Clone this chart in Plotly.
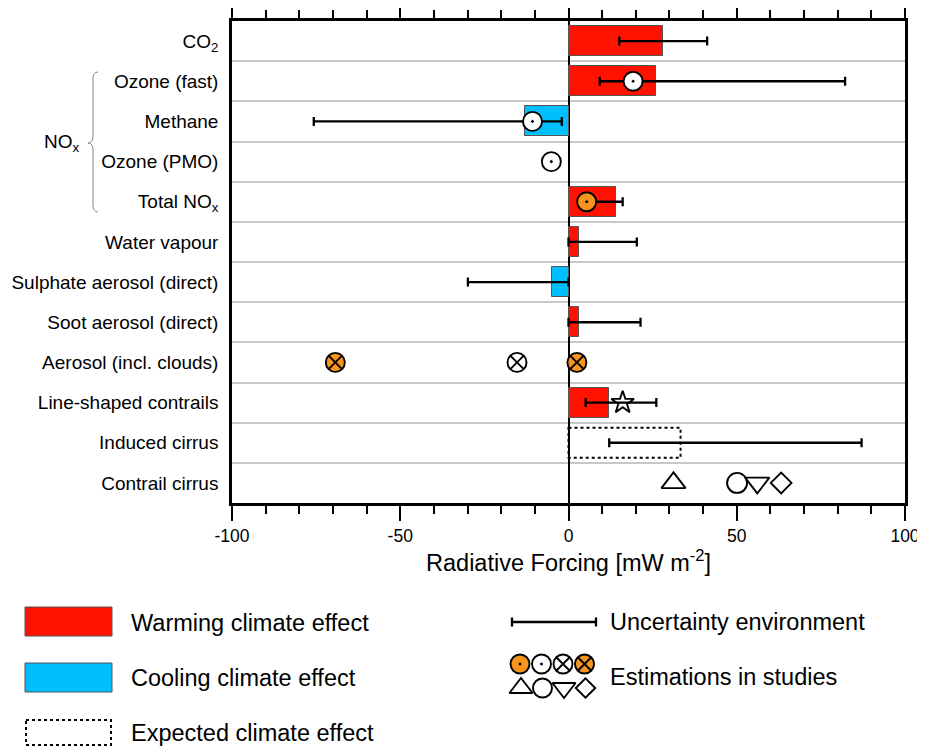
import plotly.graph_objects as go

# ---------------- data ----------------
categories = ["CO<sub>2</sub>", "Ozone (fast)", "Methane", "Ozone (PMO)", "Total NO<sub>x</sub>",
              "Water vapour", "Sulphate aerosol (direct)", "Soot aerosol (direct)",
              "Aerosol (incl. clouds)", "Line-shaped contrails", "Induced cirrus", "Contrail cirrus"]

# best-estimate radiative forcing [mW m-2] (None = no bar)
bar_values = [28.0, 26.0, -12.9, None, 14.1, 3.2, -5.0, 3.2, None, 12.1, None, None]
# expected (dotted) climate effect
expected_values = [None, None, None, None, None, None, None, None, None, None, 33.3, None]
# uncertainty ranges
err_low = [15.1, 9.3, -75.7, None, 4.6, 0.0, -29.9, 0.0, None, 5.1, 12.1, None]
err_high = [41.2, 82.2, -2.0, None, 16.1, 20.3, 0.0, 21.4, None, 26.1, 87.1, None]

# estimations in individual studies
est_category = [1, 2, 3, 4, 8, 8, 8, 9, 11, 11, 11, 11]
est_value = [19.2, -10.7, -5.1, 5.4, -69.3, -15.3, 2.5, 16.1, 31.2, 50.1, 56.1, 63.2]
est_study = ["B", "B", "B", "A", "D", "C", "D", "E", "F", "G", "H", "I"]

legend_studies_row1 = ["A", "B", "C", "D"]
legend_studies_row2 = ["F", "G", "H", "I"]

x_ticks = [-100, -50, 0, 50, 100]
x_ticktext = ["-100", "-50", "0", "50", "100"]

# ---------------- styles ----------------
RED = "#FF1200"
BLUE = "#00BFFF"
ORANGE = "#F7941D"
FONT = "Liberation Sans, Arial, sans-serif"

study_style = {
    "A": dict(symbol="circle-dot", color=ORANGE, size=19),
    "B": dict(symbol="circle-dot", color="white", size=19),
    "C": dict(symbol="circle-x", color="white", size=19),
    "D": dict(symbol="circle-x", color=ORANGE, size=19),
    "E": dict(symbol="star-open", color="black", size=17),
    "F": dict(symbol="triangle-up", color="white", size=21),
    "G": dict(symbol="circle", color="white", size=20),
    "H": dict(symbol="triangle-down", color="white", size=21),
    "I": dict(symbol="diamond", color="white", size=16),
}

# the page body has an 8px margin; overlay axis uses window pixel coordinates
OFF = 8
WIN_W, WIN_H = 925, 747
W, H = WIN_W - OFF, WIN_H - OFF
px_l, px_r, px_t, px_b = 232, 905, 21, 503

fig = go.Figure()

# bars
bx, by, bc = [], [], []
for i, v in enumerate(bar_values):
    if v is not None:
        bx.append(v); by.append(i); bc.append(RED if v > 0 else BLUE)
fig.add_trace(go.Bar(x=bx, y=by, orientation="h", width=0.75,
                     marker=dict(color=bc, line=dict(color="#555555", width=1)),
                     showlegend=False, hoverinfo="skip"))

# expected effect boxes (dotted)
for i, v in enumerate(expected_values):
    if v is not None:
        fig.add_shape(type="rect", xref="x", yref="y", x0=0, x1=v, y0=i - 0.375, y1=i + 0.375,
                      line=dict(color="black", width=2, dash="dot"), fillcolor="rgba(0,0,0,0)")

# uncertainty bars
ex, ey, ea = [], [], []
for i, (lo, hi) in enumerate(zip(err_low, err_high)):
    if lo is not None:
        ex.append((lo + hi) / 2); ey.append(i); ea.append((hi - lo) / 2)
fig.add_trace(go.Scatter(x=ex, y=ey, mode="markers",
                         marker=dict(size=1, color="rgba(0,0,0,0)"),
                         error_x=dict(type="data", array=ea, symmetric=True, thickness=2.3,
                                      width=4.5, color="black"),
                         showlegend=False, hoverinfo="skip"))

# study estimates
for s, st in study_style.items():
    xs = [v for v, e in zip(est_value, est_study) if e == s]
    ys = [c for c, e in zip(est_category, est_study) if e == s]
    if not xs:
        continue
    fig.add_trace(go.Scatter(x=xs, y=ys, mode="markers",
                             marker=dict(symbol=st["symbol"], size=st["size"], color=st["color"],
                                         line=dict(color="black", width=1.9)),
                             showlegend=False, hoverinfo="skip", cliponaxis=False))

# ---------------- legend (pixel overlay axes) ----------------
def lg(x, y, **kw):
    fig.add_trace(go.Scatter(x=x, y=y, xaxis="x2", yaxis="y2", showlegend=False,
                             hoverinfo="skip", cliponaxis=False, **kw))

fig.add_shape(type="rect", xref="x2", yref="y2", x0=25, x1=112, y0=607, y1=636,
              fillcolor=RED, line=dict(color="#555555", width=1))
fig.add_shape(type="rect", xref="x2", yref="y2", x0=25, x1=112, y0=663, y1=692,
              fillcolor=BLUE, line=dict(color="#555555", width=1))
fig.add_shape(type="rect", xref="x2", yref="y2", x0=26, x1=111, y0=720, y1=745,
              fillcolor="rgba(0,0,0,0)", line=dict(color="black", width=2, dash="dot"))

legend_texts = [("Warming climate effect", 129, 623), ("Cooling climate effect", 129, 678),
                ("Expected climate effect", 129, 733), ("Uncertainty environment", 608, 622),
                ("Estimations in studies", 608, 677)]
for t, x, y in legend_texts:
    fig.add_annotation(x=x, y=y, xref="x2", yref="y2", text=t, showarrow=False,
                       xanchor="left", yanchor="middle", font=dict(size=23.5, family=FONT, color="black"))

# uncertainty legend symbol
lg([554], [622], mode="markers", marker=dict(size=1, color="rgba(0,0,0,0)"),
   error_x=dict(type="data", array=[42], thickness=2.3, width=4.5, color="black"))

for k, s in enumerate(legend_studies_row1):
    st = study_style[s]
    lg([520 + 21.5 * k], [664], mode="markers",
       marker=dict(symbol=st["symbol"], size=19, color=st["color"], line=dict(color="black", width=1.9)))
for k, s in enumerate(legend_studies_row2):
    st = study_style[s]
    lg([521 + 21.5 * k], [688], mode="markers",
       marker=dict(symbol=st["symbol"], size=st["size"] - 1, color=st["color"], line=dict(color="black", width=1.9)))

# NOx brace and label
fig.add_shape(type="path", xref="x2", yref="y2",
              path="M 98,72 Q 93,72 93,79 L 93,136 Q 93,143 88,143 Q 93,143 93,150 L 93,205 Q 93,212 98,212",
              line=dict(color="#8a8a8a", width=1))
fig.add_annotation(x=62, y=143, xref="x2", yref="y2", text="NO<sub>x</sub>", showarrow=False,
                   xanchor="center", yanchor="middle", font=dict(size=19, family=FONT, color="black"))

# ---------------- layout ----------------
fig.update_layout(
    template="none",
    width=W, height=H,
    margin=dict(l=0, r=0, t=0, b=0),
    paper_bgcolor="white", plot_bgcolor="rgba(0,0,0,0)",
    font=dict(family=FONT, size=19, color="black"),
    bargap=0,
    xaxis=dict(domain=[(px_l - OFF) / W, (px_r - OFF) / W], range=[-100, 100], anchor="y",
               tickvals=x_ticks, ticktext=x_ticktext, ticks="outside", ticklen=15, tickwidth=1.5,
               tickcolor="black", showline=True, linewidth=2.5, linecolor="black", mirror="allticks",
               showgrid=False, zeroline=True, zerolinecolor="black", zerolinewidth=2,
               minor=dict(dtick=10, ticks="outside", ticklen=8, tickwidth=1.5, tickcolor="black", showgrid=False),
               tickfont=dict(size=17.5), automargin=False, ticklabeloverflow="allow",
               title=dict(text="Radiative Forcing [mW m<sup>-2</sup>]", font=dict(size=23.5), standoff=8)),
    yaxis=dict(domain=[1 - (px_b - OFF) / H, 1 - (px_t - OFF) / H], range=[11.5, -0.5], anchor="x",
               tickmode="array", tickvals=list(range(len(categories))), ticktext=categories,
               ticks="", showline=True, linewidth=2.5, linecolor="black", mirror=True,
               showgrid=False, zeroline=False, ticklabelstandoff=7, automargin=False,
               minor=dict(tickvals=[i + 0.5 for i in range(len(categories) - 1)], showgrid=True,
                          gridcolor="#c8c8c8", gridwidth=1.5, ticks=""),
               tickfont=dict(size=19)),
    xaxis2=dict(domain=[0, 1], range=[OFF, WIN_W], anchor="y2", visible=False, fixedrange=True),
    yaxis2=dict(domain=[0, 1], range=[WIN_H, OFF], anchor="x2", visible=False, fixedrange=True),
)

fig.write_html("out.html",
               post_script="document.documentElement.style.overflow='hidden';document.body.style.overflow='hidden';")
